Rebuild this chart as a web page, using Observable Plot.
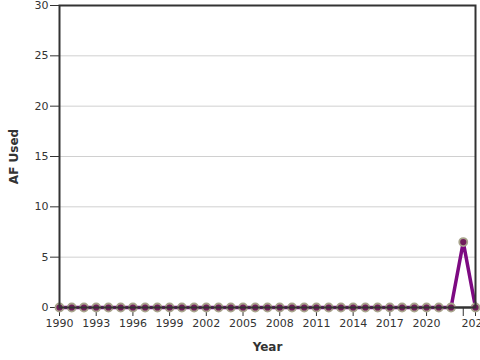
<!DOCTYPE html>
<html>
<head>
<meta charset="utf-8">
<script src="https://cdn.jsdelivr.net/npm/d3@7"></script>
<script src="https://cdn.jsdelivr.net/npm/@observablehq/plot@0.6"></script>
<style>
html, body { margin: 0; padding: 0; background: #fff; overflow: hidden; }
#chart svg { font-family: "DejaVu Sans", sans-serif; }
#chart g[aria-label="x-axis label"] text, #chart g[aria-label="y-axis label"] text { font-weight: bold; fill: #333; font-size: 12px; }
</style>
</head>
<body>
<div id="chart"></div>
<script>
const years = [1990,1991,1992,1993,1994,1995,1996,1997,1998,1999,2000,2001,2002,2003,2004,2005,2006,2007,2008,2009,2010,2011,2012,2013,2014,2015,2016,2017,2018,2019,2020,2021,2022,2023,2024];
const afUsed = [0,0,0,0,0,0,0,0,0,0,0,0,0,0,0,0,0,0,0,0,0,0,0,0,0,0,0,0,0,0,0,0,0,6.5,0];
const xTicks = [1990,1993,1996,1999,2002,2005,2008,2011,2014,2017,2020,2023,2024];
const yTicks = [0,5,10,15,20,25,30];

const data = years.map((y, i) => ({year: y, value: afUsed[i]}));

const chart = Plot.plot({
  width: 480,
  height: 360,
  marginLeft: 59,
  marginRight: 5,
  marginTop: 5,
  marginBottom: 53,
  style: {fontSize: "11px", fontFamily: "DejaVu Sans, sans-serif", color: "#333", background: "#fff"},
  x: {domain: [1990, 2024]},
  y: {domain: [0, 30]},
  marks: [
    Plot.gridY(yTicks, {stroke: "#d0d0d0", strokeOpacity: 1, strokeWidth: 1}),
    Plot.axisX({ticks: xTicks, tickFormat: d => d === 2023 ? "" : String(d), tickSize: 9, tickPadding: 3, label: "Year", labelAnchor: "center", labelArrow: "none", labelOffset: 43, stroke: "#333", fill: "#333"}),
    Plot.axisY({ticks: yTicks, tickSize: 9, tickPadding: 2, label: "AF Used", labelAnchor: "center", labelArrow: "none", labelOffset: 50, stroke: "#333", fill: "#333"}),
    Plot.ruleY([0], {stroke: "#333", strokeWidth: 2}),
    Plot.line(data, {x: "year", y: "value", stroke: "#7d0a82", strokeWidth: 3.5}),
    Plot.dot(data, {x: "year", y: "value", r: 4, fill: "#701d5c", stroke: "#a8a48c", strokeWidth: 1.8}),
    Plot.frame({stroke: "#333", strokeWidth: 2})
  ]
});
document.getElementById("chart").appendChild(chart);
</script>
</body>
</html>
